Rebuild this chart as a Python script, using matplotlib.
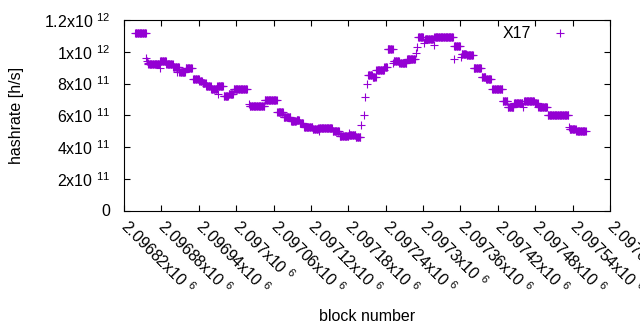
import numpy as np
import matplotlib
matplotlib.use("Agg")
import matplotlib.pyplot as plt
from matplotlib.transforms import ScaledTranslation

plt.rcParams["font.family"] = ["Liberation Sans", "DejaVu Sans"]
plt.rcParams["mathtext.fontset"] = "custom"
plt.rcParams["mathtext.rm"] = "Liberation Sans"
plt.rcParams["mathtext.it"] = "Liberation Sans"

BASE = 2096820

# runs of consecutive blocks with the same hashrate (block offsets, value in 1e11 h/s)
run_start = [18, 39, 58, 68, 79, 89, 99, 111, 121, 126, 132, 140, 150, 160, 168, 176,
             202, 226, 246, 256, 268, 277, 282, 289, 303, 312, 335, 346, 361, 372,
             392, 399, 405, 418, 423, 433, 442, 454, 472, 483, 498, 530, 542, 550,
             561, 574, 581, 591, 608, 616, 626, 642, 659, 665, 680, 715, 726]
run_end = [35, 56, 67, 78, 88, 98, 109, 120, 125, 131, 139, 149, 159, 167, 175, 197,
           225, 245, 255, 267, 276, 281, 287, 302, 311, 334, 345, 360, 371, 379,
           398, 404, 417, 422, 431, 441, 453, 467, 480, 496, 528, 539, 549, 560,
           573, 580, 589, 607, 615, 625, 639, 658, 664, 679, 713, 725, 741]
run_value = [11.2, 9.22, 9.39, 9.2, 9.02, 8.7, 8.95, 8.3, 8.15, 8.05, 7.84, 7.67, 7.84, 7.21, 7.34, 7.63,
             6.56, 6.94, 6.2, 5.87, 5.64, 5.7, 5.53, 5.24, 5.13, 5.18, 4.99, 4.69, 4.77, 4.65,
             8.51, 8.39, 8.85, 9.02, 10.2, 9.39, 9.27, 9.52, 10.9, 10.78, 10.9, 10.34, 9.84, 9.77,
             8.95, 8.39, 8.26, 7.67, 6.88, 6.54, 6.77, 6.88, 6.75, 6.5, 6.0, 5.13, 4.99]

# isolated blocks
single_block = [36, 37, 38, 57, 85, 151, 200, 313, 361, 380, 385, 387, 390, 432,
                469, 470, 481, 497, 529, 541, 640, 714]
single_value = [9.58, 9.43, 9.3, 9.0, 8.74, 7.34, 6.7, 5.02, 4.86, 5.38, 6.0, 7.13, 8.0, 9.27,
                9.9, 10.3, 10.53, 10.42, 9.52, 9.65, 6.5, 5.28]

x_ticks = np.arange(2096820, 2097601, 60)
x_tick_labels = ["2.09682", "2.09688", "2.09694", "2.097", "2.09706", "2.09712", "2.09718",
                 "2.09724", "2.0973", "2.09736", "2.09742", "2.09748", "2.09754", "2.0976"]
y_ticks = [0, 2e11, 4e11, 6e11, 8e11, 1e12, 1.2e12]
y_tick_labels = ["0", r"2x10 $^{11}$", r"4x10 $^{11}$", r"6x10 $^{11}$", r"8x10 $^{11}$",
                 r"1x10 $^{12}$", r"1.2x10 $^{12}$"]

blocks = []
rates = []
for s, e, v in zip(run_start, run_end, run_value):
    for b in range(s, e + 1):
        blocks.append(BASE + b)
        rates.append(v * 1e11)
for b, v in zip(single_block, single_value):
    blocks.append(BASE + b)
    rates.append(v * 1e11)

FS = 11.5

fig = plt.figure(figsize=(6.4, 3.3), dpi=100)
ax = fig.add_axes([124 / 640, 1 - 210.5 / 330, 486 / 640, 190.5 / 330])

ax.plot(blocks, rates, linestyle="none", marker="+", color="#9400d3",
        markersize=5.5, markeredgewidth=0.8, label="X17")

ax.set_xlim(2096820, 2097600)
ax.set_ylim(0, 1.2e12)
ax.set_xticks(x_ticks)
ax.set_xticklabels([t + r"x10 $^{6}$" for t in x_tick_labels], rotation=-45,
                   ha="left", va="center", rotation_mode="anchor", fontsize=FS)
shift = ScaledTranslation(2 / 72, 0, fig.dpi_scale_trans)
for lab in ax.get_xticklabels():
    lab.set_transform(lab.get_transform() + shift)
ax.set_yticks(y_ticks)
ax.set_yticklabels(y_tick_labels, fontsize=FS)
ax.tick_params(direction="in", top=True, right=True, length=4.2, width=0.8)
ax.tick_params(axis="y", pad=10)
ax.tick_params(axis="x", pad=9)

ax.set_xlabel("block number", fontsize=FS, va="top")
ax.xaxis.set_label_coords(0.5, -0.515)
ax.set_ylabel("hashrate [h/s]", fontsize=FS)
ax.yaxis.set_label_coords(-0.205, 0.5)

ax.legend(loc="upper right", frameon=False, markerfirst=False, fontsize=FS,
          handlelength=2.0, borderaxespad=0.0, bbox_to_anchor=(1 - 28 / 486, 1.0))

fig.savefig("out.png", dpi=100)
